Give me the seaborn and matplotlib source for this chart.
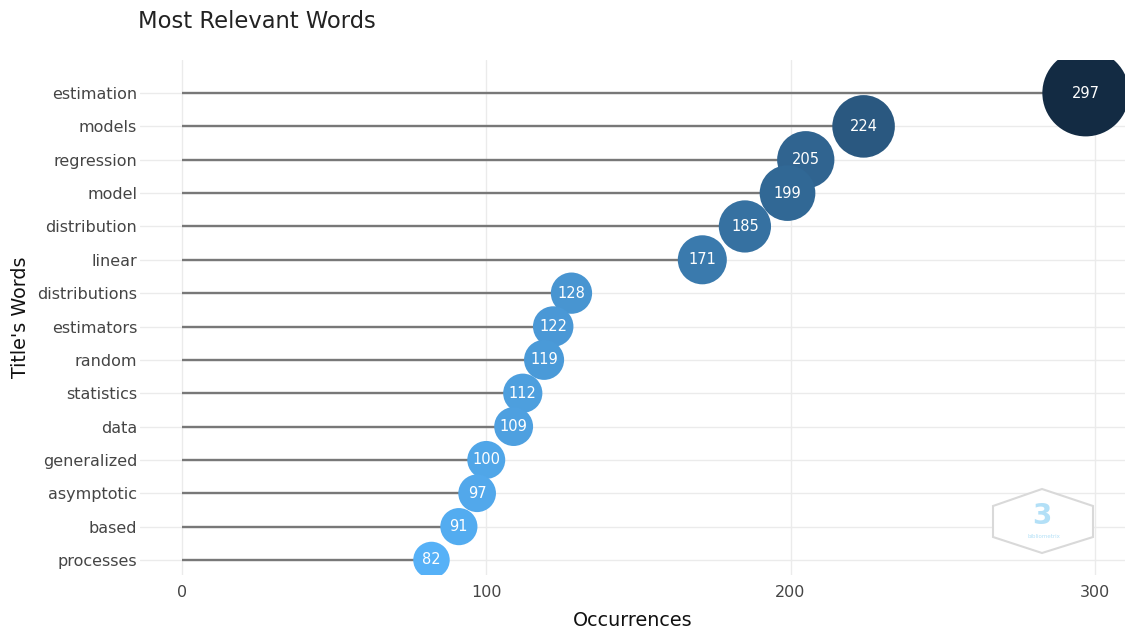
import numpy as np
import pandas as pd
import seaborn as sns
import matplotlib.pyplot as plt
from matplotlib.colors import LinearSegmentedColormap
from matplotlib.patches import Polygon

# Data (top to bottom)
words = ['estimation', 'models', 'regression', 'model', 'distribution', 'linear',
         'distributions', 'estimators', 'random', 'statistics', 'data',
         'generalized', 'asymptotic', 'based', 'processes']
occurrences = [297, 224, 205, 199, 185, 171, 128, 122, 119, 112, 109, 100, 97, 91, 82]
x_ticks = [0, 100, 200, 300]

df = pd.DataFrame({'word': words, 'n': occurrences})
df['weight'] = df['n'] ** 3  # bubble area grows fast at the top

sns.set_theme(style='white')
plt.rcParams['font.family'] = ['DejaVu Sans']

W, H = 1127, 635
fig = plt.figure(figsize=(W / 100, H / 100), dpi=100)
ax = fig.add_axes([0.1242, 0.0945, 0.874, 0.811])

# light grid like the original
for t in x_ticks:
    ax.axvline(t, color='#ebebeb', lw=1, zorder=0)
for w in words:
    ax.axhline(w, color='#ebebeb', lw=1, zorder=0)

# stems
ax.hlines(y=df['word'], xmin=0, xmax=df['n'], color='#787878', lw=1.7, zorder=1)

cmap = LinearSegmentedColormap.from_list('gg', ['#56B1F7', '#132B43'])
sns.scatterplot(data=df, x='n', y='word', hue='n', palette=cmap,
                hue_norm=(min(occurrences), max(occurrences)),
                size='weight', sizes=(690, 3900), linewidth=0,
                legend=False, ax=ax, zorder=2)
for coll in ax.collections:
    coll.set_clip_on(True)
    coll.set_clip_box(ax.bbox)

for w, v in zip(words, occurrences):
    ax.text(v, w, str(v), color='white', ha='center', va='center',
            fontsize=10.5, zorder=3)

ax.set_xlim(-13.8, 309.9)
ax.set_ylim(14.45, -0.99)
ax.set_xticks(x_ticks)
ax.tick_params(axis='both', length=0, colors='#454545', labelsize=11.5, pad=2)
ax.tick_params(axis='x', pad=7)
for s in ax.spines.values():
    s.set_visible(False)

ax.set_xlabel('Occurrences', fontsize=13.8, color='#111111', labelpad=8)
ax.set_ylabel("Title's Words", fontsize=13.8, color='#111111', labelpad=5)
fig.text(138 / W, 1 - 22 / H, 'Most Relevant Words', fontsize=16.3,
         color='#222222', ha='left', va='center')

# faint hexagon watermark in the corner (pixel corners -> figure fraction)
hex_px = [(1042, 489), (1093, 506), (1093, 537), (1042, 553), (993, 537), (993, 506)]
hexa = Polygon([(x / W, 1 - y / H) for x, y in hex_px], closed=True,
               transform=fig.transFigure, facecolor='white',
               edgecolor='#d9d9d9', lw=1.5, zorder=4)
fig.patches.append(hexa)
fig.text(1042 / W, 1 - 516 / H, '3', fontsize=20, color='#b3e0f7',
         fontweight='bold', ha='center', va='center', zorder=6)
fig.text(1044 / W, 1 - 537 / H, 'bibliometrix', fontsize=4, color='#b3e0f7',
         ha='center', va='center', zorder=6)

fig.savefig('out.png', dpi=100)
